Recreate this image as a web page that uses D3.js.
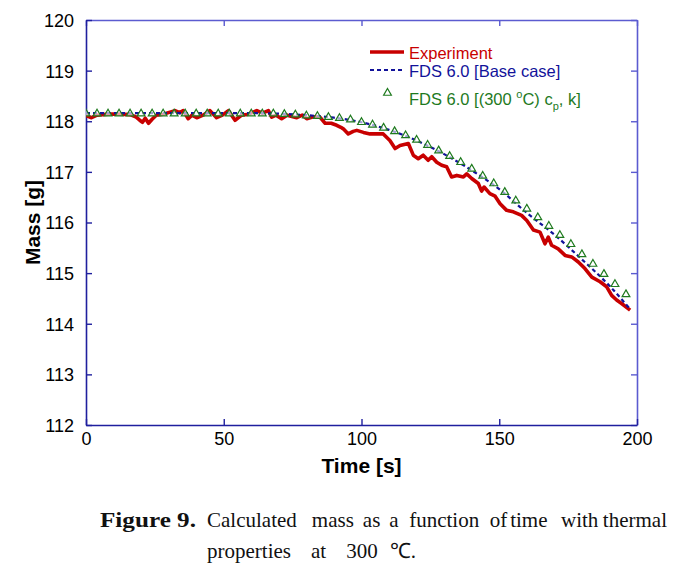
<!DOCTYPE html>
<html>
<head>
<meta charset="utf-8">
<script src="https://cdn.jsdelivr.net/npm/d3@7"></script>
<style>
  html, body { margin: 0; padding: 0; background: #ffffff; }
  svg { display: block; }
</style>
</head>
<body>
<svg id="chart" width="687" height="565"></svg>
<script>
// ---------------- data ----------------
const xTicks = [0, 50, 100, 150, 200];
const yTicks = [112, 113, 114, 115, 116, 117, 118, 119, 120];

const seriesNames = ["Experiment", "FDS 6.0 [Base case]", "FDS 6.0 [(300 °C) cp, k]"];

const expTime = [0, 2, 4, 8, 12, 16, 18, 19.5, 20.5, 21.5, 22.7, 24, 25.5, 28, 30.5, 32.3, 34, 35.3, 37.1, 38.5,
  40.2, 42.5, 45, 47.4, 49.5, 51.7, 54.1, 56.5, 59, 62, 64, 66.2, 67.4, 69, 71, 73, 76.5, 78.5, 80.1, 82.5,
  84.9, 86.8, 89, 91, 92.5, 93.4, 95.2, 97, 98.3, 100.7, 103.1, 107.9, 110.3, 112.2, 114, 117, 118.8, 120.6, 122.4, 124.2,
  125.5, 127.3, 129.1, 130.9, 132.7, 134.6, 137, 138.2, 140, 142.4, 143.6, 144.5, 146.6, 148.5, 150.3, 152.7, 155.1, 158.1, 160, 162.4,
  164.8, 166.6, 167.8, 169, 171.4, 173.9, 176.3, 178.7, 181.1, 183.6, 186.6, 189, 190.8, 192.6, 194.4, 197.5];
const expMass = [118.11, 118.07, 118.12, 118.14, 118.14, 118.13, 118.09, 118.02, 117.98, 118.06, 117.96, 118.04, 118.12, 118.14, 118.18, 118.21, 118.17, 118.21, 118.05, 118.12,
  118.07, 118.12, 118.21, 118.07, 118.12, 118.21, 118.02, 118.12, 118.14, 118.21, 118.16, 118.21, 118.08, 118.12, 118.05, 118.12, 118.07, 118.12, 118.05, 118.09,
  118.08, 117.96, 117.96, 117.92, 117.88, 117.85, 117.75, 117.80, 117.82, 117.78, 117.75, 117.75, 117.62, 117.46, 117.52, 117.56, 117.33, 117.26, 117.33, 117.23,
  117.30, 117.19, 117.13, 117.10, 116.90, 116.93, 116.90, 116.96, 116.87, 116.77, 116.62, 116.70, 116.57, 116.52, 116.37, 116.24, 116.21, 116.14, 116.04, 115.85,
  115.81, 115.58, 115.71, 115.55, 115.48, 115.35, 115.32, 115.22, 115.09, 114.92, 114.83, 114.73, 114.56, 114.47, 114.40, 114.27];

const baseTime = [0, 10, 20, 30, 40, 50, 60, 70, 80, 90, 100, 110, 120, 130, 140, 150, 160, 170, 180, 190, 197];
const baseMass = [118.16, 118.16, 118.16, 118.16, 118.16, 118.16, 118.16, 118.15, 118.12, 118.07, 117.98, 117.83, 117.62, 117.35, 117.03, 116.66, 116.19, 115.76, 115.27, 114.75, 114.32];

const triTime = [0, 4, 8, 12, 16, 20, 24, 28, 32, 36, 40, 44, 48, 52, 56, 60, 64, 68,
  72, 76, 80, 84, 88, 92, 96, 100, 104, 108, 112, 116, 120, 124, 128, 132, 136, 140, 144, 148,
  152, 156, 160, 164, 168, 172, 176, 180, 184, 188, 192, 196];
const triMass = [118.15, 118.15, 118.15, 118.15, 118.15, 118.15, 118.15, 118.15, 118.15, 118.15, 118.15, 118.15, 118.15, 118.15, 118.15, 118.15, 118.15, 118.15,
  118.14, 118.13, 118.11, 118.10, 118.08, 118.06, 118.03, 117.98, 117.93, 117.87, 117.80, 117.72, 117.63, 117.53, 117.42, 117.31, 117.19, 117.06, 116.92, 116.77,
  116.60, 116.43, 116.27, 116.10, 115.93, 115.75, 115.57, 115.37, 115.18, 114.98, 114.78, 114.58];

// ---------------- layout ----------------
const svg = d3.select("#chart");
const L = 86, R = 637, T = 20, B = 425;
const x = d3.scaleLinear().domain([0, 200]).range([L, R]);
const y = d3.scaleLinear().domain([112, 120]).range([B, T]);

const darkAxis = "#1f1f9e";
const lightAxis = "#5b5bd0";
const font = "'Liberation Sans', Arial, sans-serif";

// axes (ticks inward, on all four sides)
const axB = d3.axisBottom(x).tickValues(xTicks).tickSizeInner(-6).tickSizeOuter(0).tickPadding(9);
const axT = d3.axisTop(x).tickValues(xTicks).tickSizeInner(-6).tickSizeOuter(0).tickFormat("");
const axL = d3.axisLeft(y).tickValues(yTicks).tickSizeInner(-6).tickSizeOuter(0).tickPadding(12);
const axR = d3.axisRight(y).tickValues(yTicks).tickSizeInner(-6).tickSizeOuter(0).tickFormat("");

function styleAxis(g, col) {
  g.select(".domain").attr("stroke", col).attr("stroke-width", 1.6);
  g.selectAll(".tick line").attr("stroke", col).attr("stroke-width", 1.4);
  g.selectAll(".tick text").attr("fill", "#000").style("font-family", font).style("font-size", "18px");
}
const gT = svg.append("g").attr("transform", `translate(0,${T})`).call(axT); styleAxis(gT, lightAxis);
const gR = svg.append("g").attr("transform", `translate(${R},0)`).call(axR); styleAxis(gR, lightAxis);
const gB = svg.append("g").attr("transform", `translate(0,${B})`).call(axB); styleAxis(gB, darkAxis);
const gL = svg.append("g").attr("transform", `translate(${L},0)`).call(axL); styleAxis(gL, darkAxis);
gB.selectAll(".tick text").attr("dy", "0.6em");
gL.selectAll(".tick text").attr("dy", "0.36em");

// axis titles
svg.append("text").attr("x", (L + R) / 2).attr("y", 473).attr("text-anchor", "middle")
  .style("font-family", font).style("font-size", "21px").style("font-weight", "bold").text("Time [s]");
svg.append("text").attr("transform", `translate(40,${(T + B) / 2}) rotate(-90)`).attr("text-anchor", "middle")
  .style("font-family", font).style("font-size", "21px").style("font-weight", "bold").text("Mass [g]");

// ---------------- series ----------------
const clip = svg.append("defs").append("clipPath").attr("id", "plotclip")
  .append("rect").attr("x", L).attr("y", T).attr("width", R - L).attr("height", B - T);
const plot = svg.append("g").attr("clip-path", "url(#plotclip)");

const expData = expTime.map((t, i) => [t, expMass[i]]);
const baseData = baseTime.map((t, i) => [t, baseMass[i]]);
const triData = triTime.map((t, i) => [t, triMass[i]]);

const line = d3.line().x(d => x(d[0])).y(d => y(d[1]));
const smooth = d3.line().x(d => x(d[0])).y(d => y(d[1])).curve(d3.curveMonotoneX);

const redCol = "#c80000", blueCol = "#12129a", greenCol = "#1e7a1e";

plot.append("path").datum(expData).attr("d", line)
  .attr("fill", "none").attr("stroke", redCol).attr("stroke-width", 3.6).attr("stroke-linejoin", "round");
plot.append("path").datum(baseData).attr("d", smooth)
  .attr("fill", "none").attr("stroke", blueCol).attr("stroke-width", 2.2).attr("stroke-dasharray", "4,3");

const tri = d3.symbol().type(d3.symbolTriangle).size(26);
plot.selectAll(".tri").data(triData).join("path").attr("class", "tri")
  .attr("transform", d => `translate(${x(d[0])},${y(d[1])})`)
  .attr("d", tri).attr("fill", "#ffffff").attr("fill-opacity", 0.6).attr("stroke", greenCol).attr("stroke-width", 1.2);

// ---------------- legend ----------------
const lg = svg.append("g");
const lx0 = 370, lx1 = 404, tx = 409;
lg.append("line").attr("x1", lx0).attr("x2", lx1).attr("y1", 52).attr("y2", 52)
  .attr("stroke", redCol).attr("stroke-width", 3.4);
lg.append("text").attr("x", tx).attr("y", 59).attr("fill", redCol)
  .style("font-family", font).style("font-size", "16.5px").text(seriesNames[0]);
lg.append("line").attr("x1", lx0).attr("x2", lx1).attr("y1", 70).attr("y2", 70)
  .attr("stroke", blueCol).attr("stroke-width", 2).attr("stroke-dasharray", "4,3");
lg.append("text").attr("x", tx).attr("y", 77).attr("fill", blueCol)
  .style("font-family", font).style("font-size", "16.5px").text(seriesNames[1]);
lg.append("path").attr("transform", "translate(387.5,93)").attr("d", tri)
  .attr("fill", "none").attr("stroke", greenCol).attr("stroke-width", 1.2);
const gt = lg.append("text").attr("x", tx).attr("y", 105).attr("fill", greenCol)
  .style("font-family", font).style("font-size", "16.5px");
gt.append("tspan").text("FDS 6.0 [(300 ");
gt.append("tspan").attr("dy", -7).style("font-size", "11px").text("o");
gt.append("tspan").attr("dy", 7).text("C) c");
gt.append("tspan").attr("dy", 5).style("font-size", "11px").text("p");
gt.append("tspan").attr("dy", -5).text(", k]");

// ---------------- caption ----------------
const serif = "'Liberation Serif', 'Times New Roman', serif";
const cap = svg.append("g").style("font-family", serif).style("font-size", "21px").attr("fill", "#111");
const figLabel = cap.append("text").attr("x", 100).attr("y", 527).style("font-weight", "bold")
  .attr("textLength", 96).attr("lengthAdjust", "spacingAndGlyphs").text("Figure 9.");
const words1 = ["Calculated", "mass", "as", "a", "function", "of", "time", "with", "thermal"];
const gaps1 = [5, 3, 3, 3.5, 3.5, 1, 4.5, 1.5];
const startX = 207, endX = 667;
const w1 = words1.map(w => cap.append("text").attr("y", 527).text(w));
const widths = w1.map(t => t.node().getComputedTextLength());
const totalW = d3.sum(widths);
const spare = (endX - startX) - totalW;
const gsum = d3.sum(gaps1);
let cx = startX;
w1.forEach((t, i) => {
  t.attr("x", cx);
  cx += widths[i] + (i < gaps1.length ? spare * gaps1[i] / gsum : 0);
});
const words2 = ["properties", "at", "300", "℃."];
const gaps2 = [20, 20, 12];
let cx2 = startX;
words2.forEach((w, i) => {
  const t = cap.append("text").attr("x", cx2).attr("y", 558).text(w);
  cx2 += t.node().getComputedTextLength() + (i < gaps2.length ? gaps2[i] : 0);
});
</script>
</body>
</html>
